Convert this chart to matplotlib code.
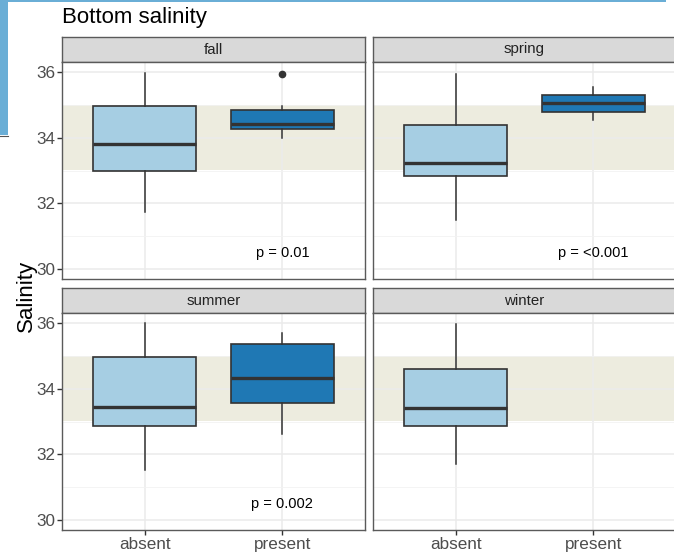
import matplotlib
matplotlib.use("Agg")
import matplotlib.pyplot as plt
from matplotlib.patches import Rectangle

plt.rcParams['font.family'] = ['Liberation Sans', 'DejaVu Sans']

W, H = 674, 556

seasons = ['fall', 'spring', 'summer', 'winter']
groups = ['absent', 'present']

# five-number summaries: whisker low, q1, median, q3, whisker high
fall_absent = [31.73, 32.97, 33.81, 34.95, 35.96]
fall_present = [34.00, 34.26, 34.42, 34.85, 34.95]
fall_outliers = [35.93]
spring_absent = [31.48, 32.82, 33.24, 34.37, 35.94]
spring_present = [34.55, 34.79, 35.05, 35.30, 35.55]
summer_absent = [31.52, 32.87, 33.45, 34.95, 36.00]
summer_present = [32.63, 33.56, 34.31, 35.35, 35.68]
winter_absent = [31.72, 32.85, 33.42, 34.60, 35.96]

p_labels = ['p = 0.01', 'p = <0.001', 'p = 0.002', None]
p_y = 30.5

# optimal range band
band_lo, band_hi = 33, 35

fill_colors = {'absent': '#a6cee3', 'present': '#1f78b4'}

season_data = {
    'fall': {'absent': (fall_absent, []), 'present': (fall_present, fall_outliers)},
    'spring': {'absent': (spring_absent, []), 'present': (spring_present, [])},
    'summer': {'absent': (summer_absent, []), 'present': (summer_present, [])},
    'winter': {'absent': (winter_absent, [])},
}


def px_axes(fig, x0, y0, x1, y1):
    return fig.add_axes([x0 / W, 1 - y1 / H, (x1 - x0) / W, (y1 - y0) / H])


fig = plt.figure(figsize=(W / 100, H / 100), dpi=100)

panel_cols = [(62, 365), (373, 676)]
panel_rows = [(62, 279), (313, 530)]
strip_h = 25

edge = '#333333'
for i, season in enumerate(seasons):
    r, c = divmod(i, 2)
    x0, x1 = panel_cols[c]
    y0, y1 = panel_rows[r]

    # facet strip
    sax = px_axes(fig, x0, y0 - strip_h, x1, y0)
    sax.set_facecolor('#d9d9d9')
    sax.set_xticks([])
    sax.set_yticks([])
    for s in sax.spines.values():
        s.set_color('#5a5a5a')
        s.set_linewidth(1.0)
    sax.text(0.5, 0.5, season, ha='center', va='center', fontsize=10.8,
             color='#222222', transform=sax.transAxes)

    ax = px_axes(fig, x0, y0, x1, y1)

    stats = []
    positions = []
    colors = []
    for j, g in enumerate(groups):
        if g not in season_data[season]:
            continue
        vals, fl = season_data[season][g]
        stats.append(dict(whislo=vals[0], q1=vals[1], med=vals[2], q3=vals[3],
                          whishi=vals[4], fliers=fl))
        positions.append(j + 1)
        colors.append(fill_colors[g])

    bp = ax.bxp(stats, positions=positions, widths=0.75, patch_artist=True,
                showcaps=False, manage_ticks=False,
                boxprops=dict(edgecolor=edge, linewidth=1.2),
                whiskerprops=dict(color=edge, linewidth=1.1),
                medianprops=dict(color=edge, linewidth=2.4),
                flierprops=dict(marker='o', markerfacecolor=edge,
                                markeredgecolor=edge, markersize=4.5))
    for patch, col in zip(bp['boxes'], colors):
        patch.set_facecolor(col)
        patch.set_zorder(2)

    ax.set_xlim(0.4, 2.6)
    ax.set_ylim(29.7, 36.3)
    ax.set_xticks([1, 2])
    ax.set_yticks([30, 32, 34, 36])
    ax.set_yticks([31, 33, 35], minor=True)
    ax.grid(True, which='major', color='#ebebeb', lw=1.1, zorder=0)
    ax.grid(True, which='minor', axis='y', color='#f2f2f2', lw=0.6, zorder=0)
    ax.set_axisbelow(True)
    ax.axhspan(band_lo, band_hi, color='#edecdf', lw=0, zorder=0.5)

    if p_labels[i]:
        ax.text(2, p_y, p_labels[i], ha='center', va='center', fontsize=10.5,
                color='black')

    for s in ax.spines.values():
        s.set_color('#5a5a5a')
        s.set_linewidth(1.0)

    ax.tick_params(which='both', length=0)
    ax.tick_params(which='major', colors='#333333', labelcolor='#4d4d4d',
                   labelsize=12.3, width=1.0)
    if c == 0:
        ax.tick_params(axis='y', which='major', length=3.5, pad=1.5)
        ax.set_yticklabels(['30', '32', '34', '36'])
    else:
        ax.set_yticklabels([])
    if r == 1:
        ax.tick_params(axis='x', which='major', length=3.5, pad=1.5)
        ax.set_xticklabels(groups)
    else:
        ax.set_xticklabels([])

fig.text(62 / W, 1 - 17 / H, 'Bottom salinity', fontsize=16, color='black',
         ha='left', va='center')
fig.text(26 / W, 1 - 296 / H, 'Salinity', fontsize=16, color='black',
         rotation=90, ha='center', va='center')

# edge of a neighbouring window along the top and left
fig.patches.append(Rectangle((0, 1 - 135 / H), 8 / W, 135 / H,
                             transform=fig.transFigure, facecolor='#6aaed6',
                             edgecolor='none'))
fig.lines.append(plt.Line2D([0, 8 / W], [1 - 135.5 / H, 1 - 135.5 / H],
                            transform=fig.transFigure, color='#555555', lw=0.8))
fig.patches.append(Rectangle((8 / W, 1 - 1.5 / H), 658 / W, 1.5 / H,
                             transform=fig.transFigure, facecolor='#6aaed6',
                             edgecolor='none'))

fig.savefig('out.png', dpi=100)
